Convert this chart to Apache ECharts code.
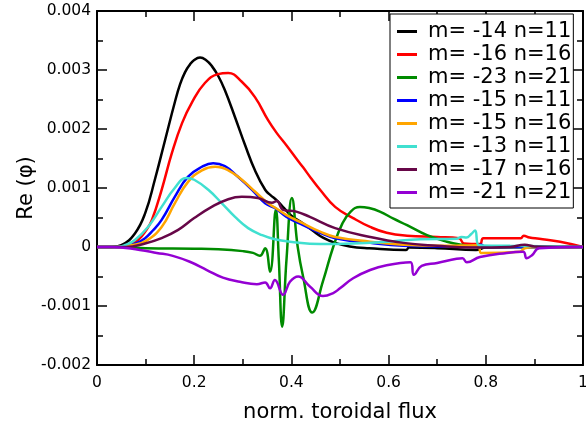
<!DOCTYPE html>
<html>
<head>
<meta charset="utf-8">
<script src="https://cdn.jsdelivr.net/npm/echarts@6/dist/echarts.min.js"></script>
<style>html,body{margin:0;padding:0;background:#fff}#c{width:586px;height:421px}</style>
</head>
<body>
<div id="c"></div>
<script>
// ---- data (x = norm. toroidal flux, y = Re(phi)) ----
const seriesNames = ['m= -14 n=11','m= -16 n=16','m= -23 n=21','m= -15 n=11','m= -15 n=16','m= -13 n=11','m= -17 n=16','m= -21 n=21'];
const seriesColors = ['#000000','#ff0000','#008b00','#0000ff','#ffa500','#40e0d0','#670748','#9400d3'];

const m14n11 = [[0,0],[0.03,0],[0.05,3e-5],[0.078,2.3e-4],[0.099,5.7e-4],[0.119,1.14e-3],[0.14,1.81e-3],[0.16,2.45e-3],[0.171,2.76e-3],[0.181,2.96e-3],[0.191,3.09e-3],[0.2,3.17e-3],[0.212,3.21e-3],[0.224,3.17e-3],[0.236,3.07e-3],[0.25,2.89e-3],[0.263,2.66e-3],[0.284,2.2e-3],[0.305,1.72e-3],[0.325,1.3e-3],[0.346,9.7e-4],[0.357,8.8e-4],[0.37,7.9e-4],[0.385,6.6e-4],[0.4,5.3e-4],[0.424,4.0e-4],[0.445,2.7e-4],[0.465,1.6e-4],[0.49,7e-5],[0.52,1e-5],[0.56,-2e-5],[0.636,-5e-5],[0.642,-1e-5],[0.7,-2e-5],[0.78,-5e-5],[0.8,-1e-5],[0.9,0],[1,0]];
const m16n16 = [[0,0],[0.05,0],[0.07,4e-5],[0.085,1.2e-4],[0.1,2.7e-4],[0.113,4.6e-4],[0.133,9.7e-4],[0.154,1.59e-3],[0.175,2.1e-3],[0.196,2.46e-3],[0.222,2.78e-3],[0.249,2.93e-3],[0.27,2.95e-3],[0.298,2.8e-3],[0.325,2.54e-3],[0.352,2.15e-3],[0.37,1.93e-3],[0.39,1.72e-3],[0.41,1.5e-3],[0.424,1.35e-3],[0.44,1.17e-3],[0.459,9.7e-4],[0.49,6.8e-4],[0.527,4.9e-4],[0.562,3.4e-4],[0.596,2.4e-4],[0.638,1.9e-4],[0.7,1.7e-4],[0.745,1.5e-4],[0.755,6e-5],[0.788,5e-5],[0.795,1.5e-4],[0.872,1.5e-4],[0.878,1.9e-4],[0.89,1.6e-4],[0.91,1.4e-4],[0.953,9e-5],[1,0]];
const m23n21 = [[0,0],[0.05,0],[0.1,-2e-5],[0.2,-3e-5],[0.25,-4e-5],[0.3,-7e-5],[0.321,-1e-4],[0.335,-1.5e-4],[0.346,-2e-5],[0.356,-4.2e-4],[0.368,6.3e-4],[0.374,-2e-4],[0.381,-1.35e-3],[0.39,-2e-4],[0.401,8.3e-4],[0.413,0],[0.424,-5e-4],[0.443,-1.11e-3],[0.465,-5.8e-4],[0.486,0],[0.505,4e-4],[0.522,6e-4],[0.541,6.8e-4],[0.56,6.6e-4],[0.582,6e-4],[0.61,4.8e-4],[0.638,3.7e-4],[0.679,2e-4],[0.72,9e-5],[0.75,4e-5],[0.79,0],[1,0]];
const m15n11 = [[0,0],[0.04,0],[0.06,2e-5],[0.08,6e-5],[0.099,1.5e-4],[0.115,2.8e-4],[0.133,4.6e-4],[0.16,8.5e-4],[0.187,1.19e-3],[0.216,1.36e-3],[0.239,1.42e-3],[0.263,1.37e-3],[0.29,1.19e-3],[0.319,9.7e-4],[0.346,7.4e-4],[0.366,6.6e-4],[0.39,5.1e-4],[0.424,3.7e-4],[0.459,2.4e-4],[0.49,1.5e-4],[0.562,7e-5],[0.63,2e-5],[0.7,1e-5],[0.78,2e-5],[0.79,4e-5],[0.8,0],[1,0]];
const m15n16 = [[0,0],[0.04,0],[0.07,3e-5],[0.1,1e-4],[0.133,3.4e-4],[0.16,7.4e-4],[0.187,1.1e-3],[0.216,1.3e-3],[0.243,1.36e-3],[0.27,1.3e-3],[0.298,1.14e-3],[0.325,9.4e-4],[0.352,7.4e-4],[0.366,6.7e-4],[0.39,5.4e-4],[0.424,4e-4],[0.459,2.6e-4],[0.49,1.7e-4],[0.562,9e-5],[0.63,4e-5],[0.7,2e-5],[0.785,3e-5],[0.79,-1e-4],[0.87,-8e-5],[0.88,-2e-5],[0.9,0],[1,0]];
const m13n11 = [[0,0],[0.04,0],[0.06,4e-5],[0.078,1.2e-4],[0.105,3.4e-4],[0.133,6.8e-4],[0.16,1e-3],[0.184,1.17e-3],[0.2,1.14e-3],[0.229,9.7e-4],[0.257,7.4e-4],[0.284,5.1e-4],[0.311,3.2e-4],[0.34,2e-4],[0.366,1.3e-4],[0.397,9e-5],[0.459,5e-5],[0.527,6e-5],[0.596,9e-5],[0.665,1.3e-4],[0.74,1.4e-4],[0.75,1.7e-4],[0.76,1.6e-4],[0.77,2.2e-4],[0.778,2.8e-4],[0.786,3e-5],[0.85,2e-5],[1,0]];
const m17n16 = [[0,0],[0.06,0],[0.099,6e-5],[0.133,1.5e-4],[0.167,2.9e-4],[0.2,4.9e-4],[0.236,6.8e-4],[0.27,8.1e-4],[0.298,8.5e-4],[0.331,8.3e-4],[0.36,7.5e-4],[0.37,7.8e-4],[0.383,6.3e-4],[0.41,6e-4],[0.438,5.1e-4],[0.49,3.2e-4],[0.562,1.7e-4],[0.63,7e-5],[0.7,2e-5],[0.77,-1e-5],[0.85,0],[0.88,4e-5],[0.9,1e-5],[1,0]];
const m21n21 = [[0,0],[0.03,0],[0.088,-5e-5],[0.123,-1e-4],[0.156,-1.5e-4],[0.191,-2.5e-4],[0.226,-3.9e-4],[0.259,-5.2e-4],[0.294,-5.9e-4],[0.329,-6.3e-4],[0.346,-6e-4],[0.356,-7e-4],[0.366,-5.6e-4],[0.383,-8.1e-4],[0.397,-5.9e-4],[0.414,-5e-4],[0.438,-6.7e-4],[0.465,-8.3e-4],[0.486,-7.8e-4],[0.5,-7e-4],[0.527,-5.3e-4],[0.562,-3.9e-4],[0.596,-3.1e-4],[0.645,-2.6e-4],[0.652,-4.7e-4],[0.668,-3.2e-4],[0.7,-2.7e-4],[0.74,-2e-4],[0.752,-1.9e-4],[0.761,-2.6e-4],[0.788,-1.7e-4],[0.843,-1e-4],[0.877,-8e-5],[0.884,-1.9e-4],[0.895,-1.4e-4],[0.91,-2e-5],[1,0]];
const seriesData = [m14n11, m16n16, m23n21, m15n11, m15n16, m13n11, m17n16, m21n21];

const xTitle = 'norm. toroidal flux';
const yTitle = 'Re (\u03c6)';

// ---- chart ----
const FONT = 'DejaVu Sans';
const chart = echarts.init(document.getElementById('c'), null, {renderer: 'canvas'});
const axisLineStyle = {color: '#000', width: 2};
const tickStyle = {color: '#000', width: 1.5};
function xFmt(v){ if (Math.abs(v) < 1e-9) return '0'; if (Math.abs(v-1) < 1e-9) return '1'; return v.toFixed(1); }
function yFmt(v){ if (Math.abs(v) < 1e-9) return '0'; return v.toFixed(3); }
const baseX = {type: 'value', min: 0, max: 1, interval: 0.2, splitLine: {show: false},
  axisLine: {show: true, onZero: false, lineStyle: axisLineStyle},
  axisTick: {show: true, inside: true, length: 10, lineStyle: tickStyle},
  minorTick: {show: true, splitNumber: 2, length: 6, lineStyle: tickStyle}};
const baseY = {type: 'value', min: -0.002, max: 0.004, interval: 0.001, splitLine: {show: false},
  axisLine: {show: true, onZero: false, lineStyle: axisLineStyle},
  axisTick: {show: true, inside: true, length: 10, lineStyle: tickStyle},
  minorTick: {show: true, splitNumber: 2, length: 6, lineStyle: tickStyle}};

chart.setOption({
  animation: false,
  backgroundColor: '#fff',
  grid: {left: 97, right: 3, top: 11, bottom: 56, containLabel: false, outerBoundsMode: 'none'},
  xAxis: [
    Object.assign({}, baseX, {position: 'bottom',
      axisLabel: {fontFamily: FONT, fontSize: 15.5, color: '#000', margin: 10, formatter: xFmt},
      name: xTitle, nameLocation: 'middle', nameGap: 37,
      nameTextStyle: {fontFamily: FONT, fontSize: 21, color: '#000'}}),
    Object.assign({}, baseX, {position: 'top', axisLabel: {show: false}})
  ],
  yAxis: [
    Object.assign({}, baseY, {position: 'left',
      axisLabel: {fontFamily: FONT, fontSize: 15.5, color: '#000', margin: 6, formatter: yFmt},
      name: yTitle, nameLocation: 'middle', nameGap: 60, nameMoveOverlap: false,
      nameTextStyle: {fontFamily: FONT, fontSize: 21, color: '#000'}}),
    Object.assign({}, baseY, {position: 'right', axisLabel: {show: false}})
  ],
  legend: {
    orient: 'vertical', left: 390, top: 14, padding: [6, 2, 4, 7], itemGap: 0,
    itemWidth: 20, itemHeight: 3, icon: 'rect',
    backgroundColor: '#fff', borderColor: '#000', borderWidth: 1,
    textStyle: {fontFamily: FONT, fontSize: 21, lineHeight: 23, color: '#000', padding: [0, 0, 0, 6]},
    data: seriesNames
  },
  series: seriesData.map((d, i) => ({
    name: seriesNames[i], type: 'line', data: d, xAxisIndex: 0, yAxisIndex: 0,
    smooth: 0.45, symbol: 'none', color: seriesColors[i],
    lineStyle: {color: seriesColors[i], width: 2.5}
  }))
});
</script>
</body>
</html>
